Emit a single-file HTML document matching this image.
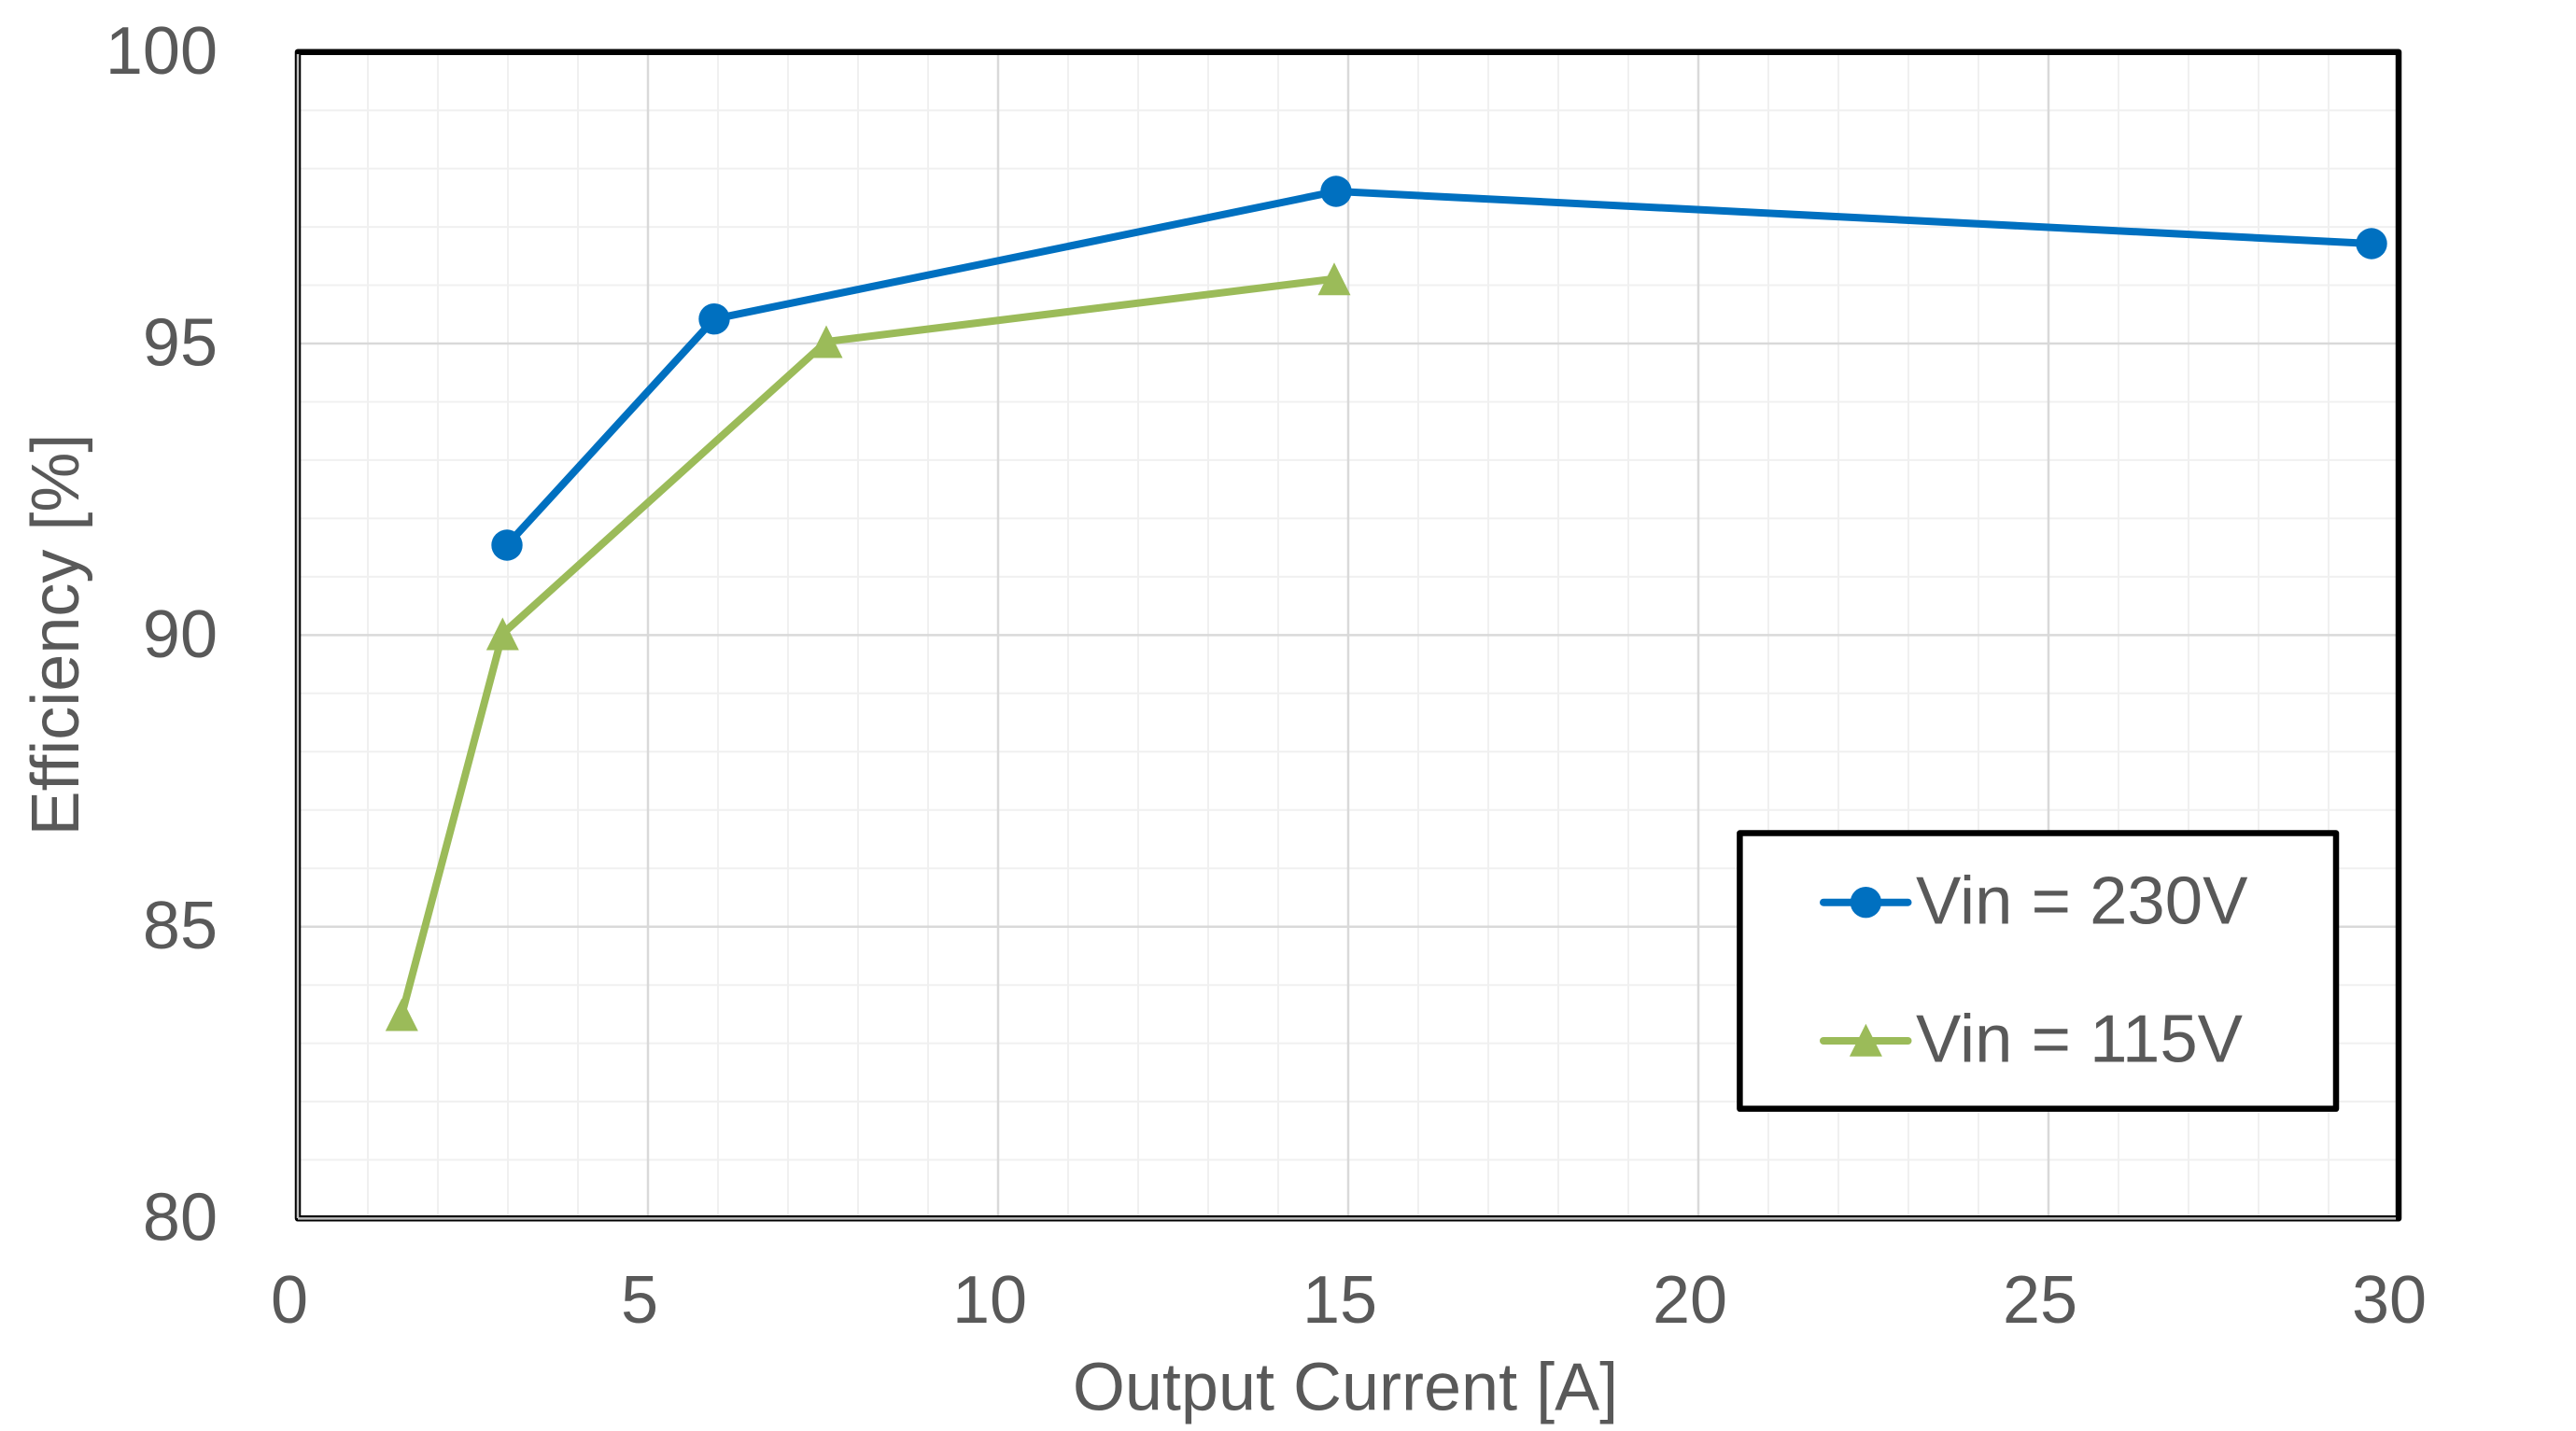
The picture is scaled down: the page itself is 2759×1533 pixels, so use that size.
<!DOCTYPE html>
<html>
<head>
<meta charset="utf-8">
<style>
html,body{margin:0;padding:0;background:#fff;}
svg{display:block;}
text{font-family:"Liberation Sans",Arial,sans-serif;fill:#595959;}
</style>
</head>
<body>
<svg width="2759" height="1533" viewBox="0 0 2759 1533" xmlns="http://www.w3.org/2000/svg">
<rect x="0" y="0" width="2759" height="1533" fill="#fff"/>
<!-- minor vertical grid -->
<g stroke="#f0f0f0" stroke-width="2">
<line x1="394" y1="56" x2="394" y2="1305"/><line x1="469" y1="56" x2="469" y2="1305"/><line x1="544" y1="56" x2="544" y2="1305"/><line x1="619" y1="56" x2="619" y2="1305"/>
<line x1="769" y1="56" x2="769" y2="1305"/><line x1="844" y1="56" x2="844" y2="1305"/><line x1="919" y1="56" x2="919" y2="1305"/><line x1="994" y1="56" x2="994" y2="1305"/>
<line x1="1144" y1="56" x2="1144" y2="1305"/><line x1="1219" y1="56" x2="1219" y2="1305"/><line x1="1294" y1="56" x2="1294" y2="1305"/><line x1="1369" y1="56" x2="1369" y2="1305"/>
<line x1="1519" y1="56" x2="1519" y2="1305"/><line x1="1594" y1="56" x2="1594" y2="1305"/><line x1="1669" y1="56" x2="1669" y2="1305"/><line x1="1744" y1="56" x2="1744" y2="1305"/>
<line x1="1894" y1="56" x2="1894" y2="1305"/><line x1="1969" y1="56" x2="1969" y2="1305"/><line x1="2044" y1="56" x2="2044" y2="1305"/><line x1="2119" y1="56" x2="2119" y2="1305"/>
<line x1="2269" y1="56" x2="2269" y2="1305"/><line x1="2344" y1="56" x2="2344" y2="1305"/><line x1="2419" y1="56" x2="2419" y2="1305"/><line x1="2494" y1="56" x2="2494" y2="1305"/>
</g>
<!-- minor horizontal grid -->
<g stroke="#f0f0f0" stroke-width="2">
<line x1="319" y1="118.2" x2="2569" y2="118.2"/><line x1="319" y1="180.6" x2="2569" y2="180.6"/><line x1="319" y1="243.1" x2="2569" y2="243.1"/><line x1="319" y1="305.5" x2="2569" y2="305.5"/>
<line x1="319" y1="430.5" x2="2569" y2="430.5"/><line x1="319" y1="492.9" x2="2569" y2="492.9"/><line x1="319" y1="555.4" x2="2569" y2="555.4"/><line x1="319" y1="617.9" x2="2569" y2="617.9"/>
<line x1="319" y1="742.8" x2="2569" y2="742.8"/><line x1="319" y1="805.3" x2="2569" y2="805.3"/><line x1="319" y1="867.8" x2="2569" y2="867.8"/><line x1="319" y1="930.2" x2="2569" y2="930.2"/>
<line x1="319" y1="1055.2" x2="2569" y2="1055.2"/><line x1="319" y1="1117.6" x2="2569" y2="1117.6"/><line x1="319" y1="1180.1" x2="2569" y2="1180.1"/><line x1="319" y1="1242.5" x2="2569" y2="1242.5"/>
</g>
<!-- major grid -->
<g stroke="#d9d9d9" stroke-width="2.5">
<line x1="694" y1="56" x2="694" y2="1305"/><line x1="1069" y1="56" x2="1069" y2="1305"/><line x1="1444" y1="56" x2="1444" y2="1305"/><line x1="1819" y1="56" x2="1819" y2="1305"/><line x1="2194" y1="56" x2="2194" y2="1305"/>
<line x1="319" y1="368" x2="2569" y2="368"/><line x1="319" y1="680.4" x2="2569" y2="680.4"/><line x1="319" y1="992.7" x2="2569" y2="992.7"/>
</g>
<!-- plot border -->
<rect x="319" y="55.7" width="2250" height="1249.6" fill="none" stroke="#000" stroke-width="6.5" stroke-linejoin="round"/>
<line x1="319" y1="58" x2="319" y2="1305" stroke="#bfbfbf" stroke-width="2.5"/>
<line x1="319" y1="1305.4" x2="2566" y2="1305.4" stroke="#bfbfbf" stroke-width="2.5"/>

<!-- series 115V -->
<polyline points="430.3,1087 538.3,679 885,366 1429,298.7" fill="none" stroke="#9BBB59" stroke-width="8" stroke-linejoin="round"/>
<g fill="#9BBB59">
<polygon points="430.3,1069.5 447.8,1104.5 412.8,1104.5"/>
<polygon points="538.3,661.5 555.8,696.5 520.8,696.5"/>
<polygon points="885,348.5 902.5,383.5 867.5,383.5"/>
<polygon points="1429,281.2 1446.5,316.2 1411.5,316.2"/>
</g>
<!-- series 230V -->
<polyline points="543,584 765,341.7 1431,205 2540,261" fill="none" stroke="#0070C0" stroke-width="8" stroke-linejoin="round"/>
<g fill="#0070C0">
<circle cx="543" cy="584" r="16.7"/>
<circle cx="765" cy="341.7" r="16.7"/>
<circle cx="1431" cy="205" r="16.7"/>
<circle cx="2540" cy="261" r="16.7"/>
</g>

<!-- y tick labels -->
<g font-size="72" text-anchor="end">
<text x="233" y="79.2">100</text>
<text x="233" y="391.5">95</text>
<text x="233" y="703.9">90</text>
<text x="233" y="1016.2">85</text>
<text x="233" y="1328.5">80</text>
</g>
<!-- x tick labels -->
<g font-size="72" text-anchor="middle">
<text x="310" y="1417">0</text>
<text x="685" y="1417">5</text>
<text x="1060" y="1417">10</text>
<text x="1435" y="1417">15</text>
<text x="1810" y="1417">20</text>
<text x="2185" y="1417">25</text>
<text x="2559" y="1417">30</text>
</g>
<!-- axis titles -->
<text x="1441" y="1510.7" font-size="72" text-anchor="middle">Output Current [A]</text>
<text x="84" y="680" font-size="72" text-anchor="middle" transform="rotate(-90 84 680)">Efficiency [%]</text>

<!-- legend -->
<rect x="1863.4" y="892.5" width="638.6" height="295.3" fill="#fff" stroke="#000" stroke-width="6.5" stroke-linejoin="round"/>
<line x1="1953" y1="966.7" x2="2043.5" y2="966.7" stroke="#0070C0" stroke-width="8" stroke-linecap="round"/>
<circle cx="1998.4" cy="966.7" r="16.7" fill="#0070C0"/>
<text x="2052" y="989.3" font-size="72.5">Vin = 230V</text>
<line x1="1953" y1="1115" x2="2043.5" y2="1115" stroke="#9BBB59" stroke-width="8" stroke-linecap="round"/>
<polygon points="1998.4,1096.7 2015.9,1131.7 1980.9,1131.7" fill="#9BBB59"/>
<text x="2052" y="1137.3" font-size="72.5">Vin = 115V</text>
</svg>
</body>
</html>
